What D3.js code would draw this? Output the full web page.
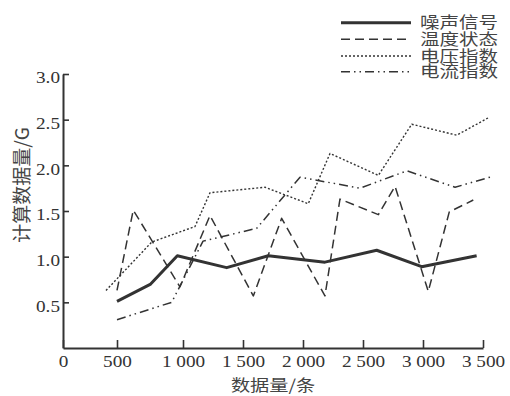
<!DOCTYPE html>
<html><head><meta charset="utf-8">
<script src="https://cdn.jsdelivr.net/npm/d3@7"></script>
<style>
html,body{margin:0;padding:0;background:#fff;}
svg{display:block;}
</style>
</head><body>
<svg id="c" width="510" height="396"></svg>
<script>
// ---- data ----
const seriesNames = ["噪声信号", "温度状态", "电压指数", "电流指数"];
const noiseX = [500, 755, 957, 1364, 1711, 2183, 2614, 2989, 3447];
const noiseY = [0.51, 0.70, 1.01, 0.88, 1.01, 0.94, 1.07, 0.89, 1.01];
const tempX = [500, 623, 977, 1225, 1586, 1822, 2183, 2308, 2628, 2767, 3044, 3219, 3419];
const tempY = [0.63, 1.51, 0.67, 1.45, 0.57, 1.42, 0.57, 1.63, 1.46, 1.77, 0.62, 1.49, 1.62];
const voltX = [398, 763, 1100, 1225, 1683, 2044, 2225, 2628, 2906, 3281, 3544];
const voltY = [0.63, 1.16, 1.33, 1.70, 1.76, 1.58, 2.13, 1.89, 2.45, 2.33, 2.52];
const currX = [500, 914, 1167, 1614, 1975, 2475, 2867, 3267, 3583];
const currY = [0.31, 0.50, 1.17, 1.31, 1.87, 1.75, 1.94, 1.76, 1.88];
const xTicks = [0, 500, 1000, 1500, 2000, 2500, 3000, 3500];
const yTicks = [0.5, 1.0, 1.5, 2.0, 2.5, 3.0];
const xTitle = "数据量/条";
const yTitle = "计算数据量/G";

// ---- layout ----
const SERIF = '"Liberation Serif", "Times New Roman", serif';
const CJK = '"Noto Sans CJK SC", "Noto Sans CJK JP", sans-serif';
const INK = "#333";
const TXT = "#444";
const svg = d3.select("#c");
const x = d3.scaleLinear().domain([0, 500, 1000, 3500]).range([63, 117, 183, 483]);
const y = d3.scaleLinear().domain([0, 3]).range([348, 74]);

const styles = [
  {w: 3, dash: null},
  {w: 1.5, dash: "9,5"},
  {w: 1.4, dash: "2,2"},
  {w: 1.5, dash: "9,4,1.5,4,1.5,4"}
];
const data = [
  noiseX.map((d, i) => [d, noiseY[i]]),
  tempX.map((d, i) => [d, tempY[i]]),
  voltX.map((d, i) => [d, voltY[i]]),
  currX.map((d, i) => [d, currY[i]])
];

// axes
const fmt = d => d >= 1000 ? Math.floor(d / 1000) + " " + String(d % 1000).padStart(3, "0") : String(d);
const gx = svg.append("g").attr("transform", "translate(0,348)")
  .call(d3.axisBottom(x).tickValues(xTicks).tickSizeInner(-8).tickSizeOuter(0).tickPadding(8).tickFormat(fmt));
gx.selectAll(".tick text")
  .style("font-family", SERIF).style("font-size", "16px").style("fill", INK)
  .attr("transform", "scale(1.2,1)")
  .attr("x", function() { return 0; });
const gy = svg.append("g").attr("transform", "translate(63,0)")
  .call(d3.axisLeft(y).tickValues(yTicks).tickSizeInner(-6).tickSizeOuter(0).tickPadding(4).tickFormat(d3.format(".1f")));
gy.selectAll(".tick text")
  .style("font-family", SERIF).style("font-size", "16px").style("fill", INK)
  .attr("x", 0).attr("dy", "0.55em")
  .attr("transform", "translate(-3,0) scale(1.2,1)");
svg.selectAll(".domain, .tick line").attr("stroke", INK).attr("stroke-width", 1.6);
svg.selectAll(".domain").attr("stroke-width", 2);

// lines
const line = d3.line().x(d => x(d[0])).y(d => y(d[1]));
data.forEach((s, i) => {
  svg.append("path").datum(s).attr("d", line)
    .attr("fill", "none").attr("stroke", INK)
    .attr("stroke-width", styles[i].w)
    .attr("stroke-dasharray", styles[i].dash)
    .attr("stroke-linejoin", "round");
});

// titles
svg.append("text").attr("transform", "translate(273,391) scale(1.2,1)")
  .attr("text-anchor", "middle")
  .style("font-family", CJK).style("font-size", "16px").style("fill", TXT)
  .text(xTitle);
svg.append("text").attr("transform", "translate(29,185) rotate(-90)")
  .attr("text-anchor", "middle")
  .style("font-family", CJK).style("font-size", "19px").style("fill", TXT)
  .text(yTitle);

// legend
const legY = [22.7, 39.3, 56, 71.7];
seriesNames.forEach((n, i) => {
  svg.append("line").attr("x1", 341).attr("x2", 411).attr("y1", legY[i]).attr("y2", legY[i])
    .attr("stroke", INK).attr("stroke-width", styles[i].w).attr("stroke-dasharray", styles[i].dash);
  svg.append("text").attr("transform", `translate(420,${legY[i]}) scale(1.22,1)`)
    .attr("dy", "0.36em")
    .style("font-family", CJK).style("font-size", "16px").style("fill", TXT)
    .text(n);
});
</script>
</body></html>
